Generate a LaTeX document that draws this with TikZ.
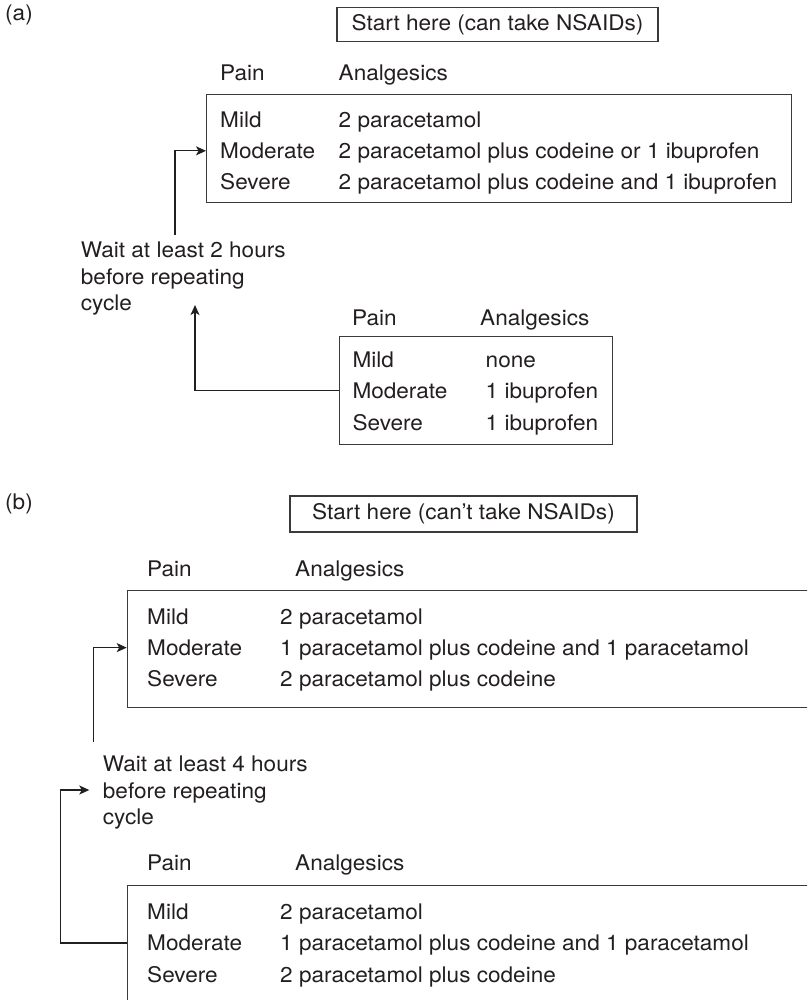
\documentclass[tikz,border=0pt]{standalone}
\usepackage{fontspec}
\setmainfont{TeX Gyre Heros}[FakeStretch=1.05]
\usetikzlibrary{arrows.meta}
\definecolor{ink}{HTML}{231F20}
\definecolor{rulegray}{HTML}{3A3A3A}

\begin{document}
\begin{tikzpicture}[x=1pt,y=-1pt,
  txt/.style={anchor=base west, inner sep=0pt, text=ink, font=\fontsize{21.5}{26}\selectfont},
  tbox/.style={draw=rulegray, line width=1.2pt, anchor=north west, inner sep=0pt},
  startbox/.style={draw=rulegray, line width=1.2pt, inner sep=0pt, text=ink,
    font=\fontsize{21.5}{26}\selectfont},
  link/.style={draw=ink, line width=1.2pt},
  arr/.style={link, -{Stealth[length=10pt,width=9pt,inset=2.5pt]}}]

\useasboundingbox (0,0) rectangle (807,1000);
\clip (0,0) rectangle (807,1000);

% ---------------- part (a): patients who can take NSAIDs ----------------
\node[txt] (labA) at (5,21) {(a)};
\node[startbox, minimum width=321pt, minimum height=34pt] (startA) at (497.5,24.3)
  {Start here (can take NSAIDs)};

% first regimen
\node[txt] (hpA1) at (220,81) {Pain};
\node[txt] (haA1) at (338.5,81) {Analgesics};
\node[tbox, minimum width=584.7pt, minimum height=107.7pt] (boxA1) at (206,94.3) {};
\node[txt] (milA1) at (220,127.7) {Mild};
\node[txt] (modA1) at (220,158.5) {Moderate};
\node[txt] (sevA1) at (220,190) {Severe};
\node[txt] (vmilA1) at (338.5,127.7) {2 paracetamol};
\node[txt] (vmodA1) at (338.5,158.5) {2 paracetamol plus codeine or 1 ibuprofen};
\node[txt] (vsevA1) at (338.5,190) {2 paracetamol plus codeine and 1 ibuprofen};

% waiting note
\node[txt] (waitA1) at (80.7,257.5) {Wait at least 2 hours};
\node[txt] (waitA2) at (80.7,284) {before repeating};
\node[txt] (waitA3) at (80.7,310.5) {cycle};

% second regimen
\node[txt] (hpA2) at (352,325.7) {Pain};
\node[txt] (haA2) at (480,325.7) {Analgesics};
\node[tbox, minimum width=272.7pt, minimum height=108pt] (boxA2) at (339,336) {};
\node[txt] (milA2) at (352.3,367) {Mild};
\node[txt] (modA2) at (352.3,398.3) {Moderate};
\node[txt] (sevA2) at (352.3,430) {Severe};
\node[txt] (vmilA2) at (485.5,367) {none};
\node[txt] (vmodA2) at (485.5,398.3) {1 ibuprofen};
\node[txt] (vsevA2) at (485.5,430) {1 ibuprofen};

% cycle connectors
\coordinate (tailA) at (175,235);
\coordinate (tipA) at (195,305);
\draw[arr] (tailA) |- (boxA1.west |- modA1.west);
\draw[arr] (boxA2.west |- modA2.west) -| (tipA);

% ---------------- part (b): patients who cannot take NSAIDs ----------------
\node[txt] (labB) at (5,509) {(b)};
\node[startbox, minimum width=347pt, minimum height=36pt] (startB) at (463.5,514)
  {Start here (can’t take NSAIDs)};

% first regimen
\node[txt] (hpB1) at (147,576) {Pain};
\node[txt] (haB1) at (295,576) {Analgesics};
\node[tbox, minimum width=720pt, minimum height=117.5pt] (boxB1) at (126.7,589.5) {};
\node[txt] (milB1) at (147,624) {Mild};
\node[txt] (modB1) at (147,655.3) {Moderate};
\node[txt] (sevB1) at (147,686.7) {Severe};
\node[txt] (vmilB1) at (280,624) {2 paracetamol};
\node[txt] (vmodB1) at (280,655.3) {1 paracetamol plus codeine and 1 paracetamol};
\node[txt] (vsevB1) at (280,686.7) {2 paracetamol plus codeine};

% waiting note
\node[txt] (waitB1) at (102.7,771.7) {Wait at least 4 hours};
\node[txt] (waitB2) at (102.7,798) {before repeating};
\node[txt] (waitB3) at (102.7,824.3) {cycle};

% second regimen
\node[txt] (hpB2) at (147,870) {Pain};
\node[txt] (haB2) at (295,870) {Analgesics};
\node[tbox, minimum width=720pt, minimum height=200pt] (boxB2) at (126.7,885) {};
\node[txt] (milB2) at (147,919.3) {Mild};
\node[txt] (modB2) at (147,950.7) {Moderate};
\node[txt] (sevB2) at (147,982.7) {Severe};
\node[txt] (vmilB2) at (280,919.3) {2 paracetamol};
\node[txt] (vmodB2) at (280,950.7) {1 paracetamol plus codeine and 1 paracetamol};
\node[txt] (vsevB2) at (280,982.7) {2 paracetamol plus codeine};

% cycle connectors
\coordinate (tailB) at (93.3,741.7);
\coordinate (cornerB) at (60.7,790);
\coordinate (tipB) at (89.3,790);
\draw[arr] (tailB) |- (boxB1.west |- modB1.west);
\draw[arr] (boxB2.west |- modB2.west) -| (cornerB) -- (tipB);
\end{tikzpicture}
\end{document}
